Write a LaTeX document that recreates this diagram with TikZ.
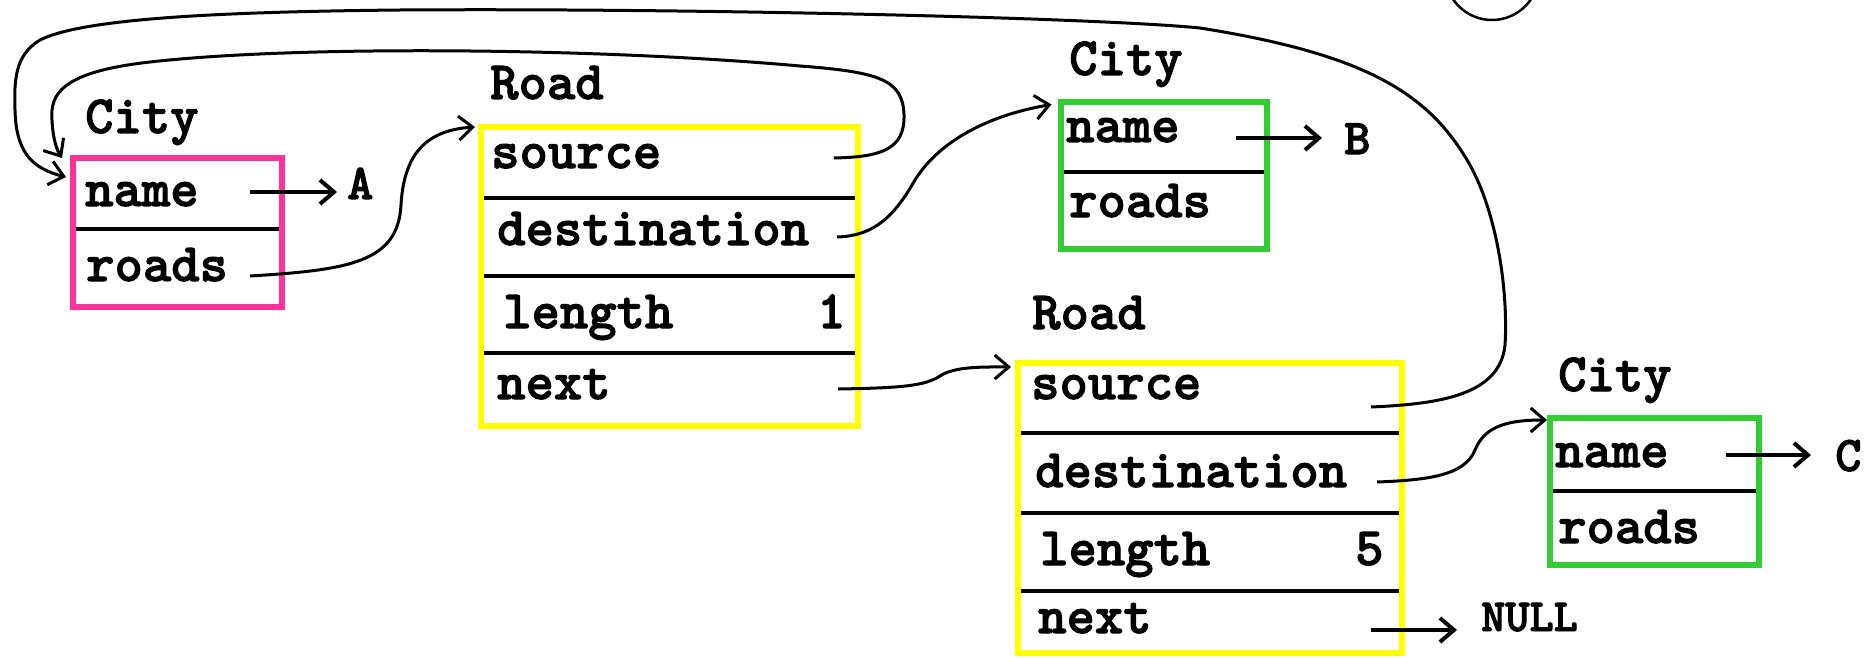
\documentclass[tikz,border=0pt]{standalone}
\usepackage{fontspec}
\setmonofont{lmmonolt10-regular.otf}[BoldFont=lmmonolt10-bold.otf, BoldFeatures={FakeBold=2}]
\usetikzlibrary{arrows.meta}
\definecolor{cityPink}{RGB}{255,51,153}
\definecolor{roadYellow}{RGB}{255,255,0}
\definecolor{cityGreen}{RGB}{51,204,51}
\tikzset{
  recbox/.style={rectangle, draw, line width=6pt, inner sep=0pt, outer sep=0pt},
  field/.style={font=\ttfamily\bfseries\fontsize{54}{56}\selectfont, anchor=base west, inner sep=0pt},
  letter/.style={font=\ttfamily\bfseries\fontsize{50}{52}\selectfont, anchor=base west, inner sep=0pt},
  nulltext/.style={font=\ttfamily\bfseries\fontsize{46}{48}\selectfont, anchor=base west, inner sep=0pt},
  divider/.style={line width=4pt, shorten <=3pt, shorten >=3pt},
  conn/.style={line width=3pt, -{Straight Barb[length=14pt,width=24pt]}},
  ptr/.style={line width=4pt, -{Straight Barb[length=14pt,width=24pt]}}
}
\begin{document}
\begin{tikzpicture}[x=1pt,y=-1pt]
\useasboundingbox (0,0) rectangle (1872,658);

% stray circle at the top edge
\node[circle, draw, line width=2.5pt, minimum size=94pt, inner sep=0pt] (ring) at (1492,-27) {};

% ---- City A ----
\node[recbox, draw=cityPink, minimum width=209pt, minimum height=149pt] (ca) at (177.5,232.5) {};
\draw[divider] (ca.west |- 0,229) -- (ca.east |- 0,229);
\node[field] (caT) at (85,133) {City};
\node[field] (caN) at (85,206) {name};
\node[field] (caR) at (86,281) {roads};
\node[letter] (valA) at (347,199) {A};

% ---- Road 1 ----
\node[recbox, draw=roadYellow, minimum width=377pt, minimum height=299pt] (r1) at (669.5,276.5) {};
\draw[divider] (r1.west |- 0,198) -- (r1.east |- 0,198);
\draw[divider] (r1.west |- 0,276) -- (r1.east |- 0,276);
\draw[divider] (r1.west |- 0,353) -- (r1.east |- 0,353);
\node[field] (r1T) at (490,99) {Road};
\node[field] (r1S) at (491,168) {source};
\node[field] (r1D) at (497,245) {destination};
\node[field] (r1L) at (503,328) {length};
\node[field] (r1V) at (817,328) {1};
\node[field] (r1X) at (497,399) {next};

% ---- City B ----
\node[recbox, draw=cityGreen, minimum width=206pt, minimum height=146pt] (cb) at (1163.5,175.5) {};
\draw[divider] (cb.west |- 0,172) -- (cb.east |- 0,172);
\node[field] (cbT) at (1069,75) {City};
\node[field] (cbN) at (1066,142) {name};
\node[field] (cbR) at (1069,217) {roads};
\node[letter] (valB) at (1344,154) {B};

% ---- Road 2 ----
\node[recbox, draw=roadYellow, minimum width=384pt, minimum height=290pt] (r2) at (1210,508) {};
\draw[divider] (r2.west |- 0,433) -- (r2.east |- 0,433);
\draw[divider] (r2.west |- 0,513) -- (r2.east |- 0,513);
\draw[divider] (r2.west |- 0,591) -- (r2.east |- 0,591);
\node[field] (r2T) at (1032,329) {Road};
\node[field] (r2S) at (1031,399) {source};
\node[field] (r2D) at (1035,487) {destination};
\node[field] (r2L) at (1040,565) {length};
\node[field] (r2V) at (1355,565) {5};
\node[field] (r2X) at (1038,633) {next};
\node[nulltext] (nul) at (1481,631) {NULL};

% ---- City C ----
\node[recbox, draw=cityGreen, minimum width=209pt, minimum height=147pt] (cc) at (1654.5,491.5) {};
\draw[divider] (cc.west |- 0,491) -- (cc.east |- 0,491);
\node[field] (ccT) at (1558,391) {City};
\node[field] (ccN) at (1555,467) {name};
\node[field] (ccR) at (1558,543) {roads};
\node[letter] (valC) at (1835,471) {C};

% pointer origins and ends
\coordinate (aS) at (250,192);   \coordinate (aE) at (337,192);
\coordinate (bS) at (1236,138);  \coordinate (bE) at (1322,138);
\coordinate (cS) at (1726,455);  \coordinate (cE) at (1811,455);
\coordinate (nS) at (1371,630);  \coordinate (nE) at (1457,630);
\coordinate (caRoads) at (250,276);
\coordinate (r1Src) at (834,158);
\coordinate (r1Dst) at (837,237);
\coordinate (r1Nxt) at (838,389);
\coordinate (r2Src) at (1371,407);
\coordinate (r2Dst) at (1377,482);

% straight pointers
\draw[ptr] (aS) -- (aE);
\draw[ptr] (bS) -- (bE);
\draw[ptr] (cS) -- (cE);
\draw[ptr] (nS) -- (nE);

% City A roads -> Road 1
\draw[conn] (caRoads) .. controls (350,270) and (398,262) .. (401,205)
  .. controls (404,150) and (430,130) .. ([xshift=-6pt]r1.north west);

% Road 1 destination -> City B
\draw[conn] (r1Dst) .. controls (875,236) and (895,215) .. (915,180)
  .. controls (940,140) and (990,115) .. ([xshift=-9pt,yshift=-2pt]cb.north west);

% Road 1 next -> Road 2
\draw[conn] (r1Nxt) .. controls (900,388) and (925,386) .. (940,376)
  .. controls (955,366) and (985,367) .. ([xshift=-7pt,yshift=-4pt]r2.north west);

% Road 2 destination -> City C
\draw[conn] (r2Dst) .. controls (1430,480) and (1465,475) .. (1475,450)
  .. controls (1485,425) and (1510,420) .. ([xshift=-3pt,yshift=-2pt]cc.north west);

% Road 1 source -> City A (inner loop)
\draw[conn] (r1Src) .. controls (880,157) and (905,150) .. (904,115)
  .. controls (903,80) and (880,72) .. (800,66)
  .. controls (600,48) and (300,45) .. (150,62)
  .. controls (60,72) and (50,95) .. (52,120)
  .. controls (53,140) and (57,150) .. ([xshift=-11pt,yshift=0pt]ca.north west);

% Road 2 source -> City A (outer loop)
\draw[conn] (r2Src) .. controls (1440,404) and (1500,395) .. (1505,345)
  .. controls (1508,300) and (1500,220) .. (1470,165)
  .. controls (1430,95) and (1370,55) .. (1200,28)
  .. controls (1100,18) and (700,8) .. (400,10)
  .. controls (200,12) and (80,20) .. (40,40)
  .. controls (15,55) and (14,80) .. (15,110)
  .. controls (16,150) and (30,168) .. ([xshift=-7pt,yshift=-19pt]ca.north west);
\end{tikzpicture}
\end{document}
